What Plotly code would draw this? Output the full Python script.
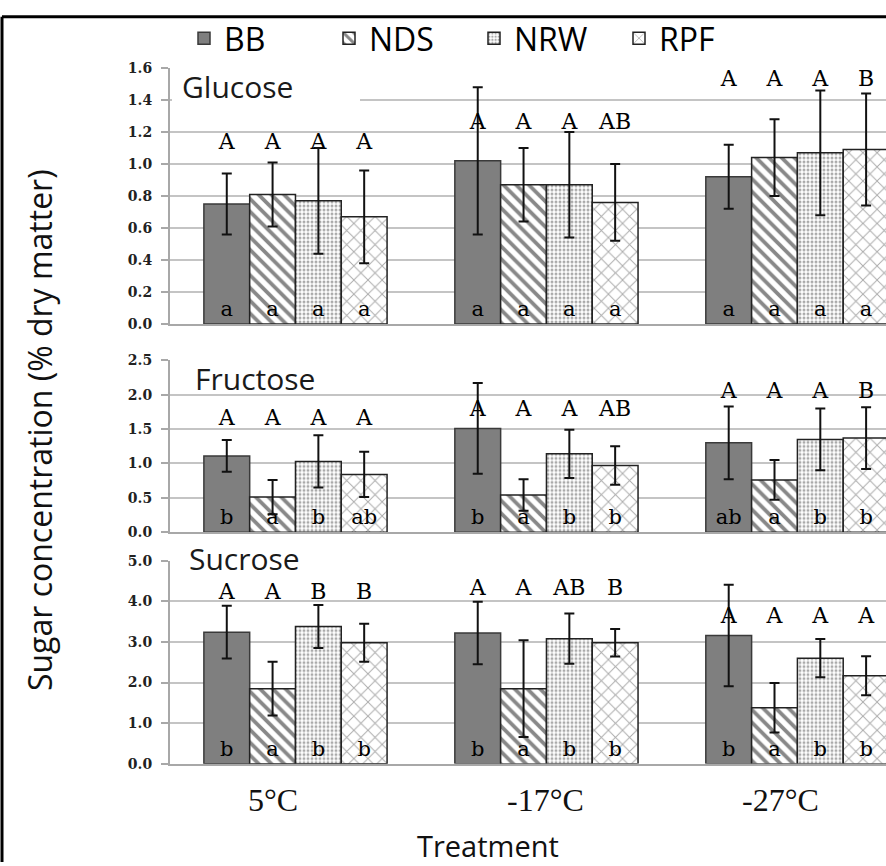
import plotly.graph_objects as go

# ---------------- data ----------------
categories = ["5°C", "-17°C", "-27°C"]
series = ["BB", "NDS", "NRW", "RPF"]

glucose_mean = [[0.75, 1.02, 0.92], [0.81, 0.87, 1.04], [0.77, 0.87, 1.07], [0.67, 0.76, 1.09]]
glucose_err = [[0.19, 0.46, 0.20], [0.20, 0.23, 0.24], [0.33, 0.33, 0.39], [0.29, 0.24, 0.35]]
glucose_upper = [["A", "A", "A"], ["A", "A", "A"], ["A", "A", "A"], ["A", "AB", "B"]]
glucose_lower = [["a", "a", "a"], ["a", "a", "a"], ["a", "a", "a"], ["a", "a", "a"]]
glucose_upper_y = [1.13, 1.25, 1.52]

fructose_mean = [[1.11, 1.51, 1.30], [0.51, 0.54, 0.76], [1.03, 1.14, 1.35], [0.84, 0.97, 1.37]]
fructose_err = [[0.23, 0.66, 0.53], [0.25, 0.23, 0.29], [0.38, 0.35, 0.45], [0.33, 0.28, 0.45]]
fructose_upper = [["A", "A", "A"], ["A", "A", "A"], ["A", "A", "A"], ["A", "AB", "B"]]
fructose_lower = [["b", "b", "ab"], ["a", "a", "a"], ["b", "b", "b"], ["ab", "b", "b"]]
fructose_upper_y = [1.64, 1.77, 2.03]

sucrose_mean = [[3.24, 3.22, 3.16], [1.85, 1.85, 1.38], [3.38, 3.08, 2.60], [2.98, 2.98, 2.17]]
sucrose_err = [[0.65, 0.77, 1.25], [0.66, 1.19, 0.61], [0.53, 0.62, 0.47], [0.47, 0.34, 0.48]]
sucrose_upper = [["A", "A", "A"], ["A", "A", "A"], ["B", "AB", "A"], ["B", "B", "A"]]
sucrose_lower = [["b", "b", "b"], ["a", "a", "a"], ["b", "b", "b"], ["b", "b", "b"]]
sucrose_upper_y = [4.19, 4.28, 3.60]

panel_names = ["Glucose", "Fructose", "Sucrose"]
y_max = [1.6, 2.5, 5.0]
y_dtick = [0.2, 0.5, 1.0]

# ---------------- layout helpers ----------------
W, H = 886, 866
L = 170


def fx(p):
    return (p - L) / (W - L)


def fy(p):
    return (H - p) / H


domains = [[fy(322), fy(61)], [fy(534), fy(359)], [fy(770), fy(563)]]
BARGAP = 0.27
xgroups = list(range(len(categories)))

styles = [
    dict(color="#7f7f7f", line=dict(color="#3a3a3a", width=1.5)),
    dict(color="white", line=dict(color="#222", width=1.5),
         pattern=dict(shape="\\", fgcolor="#111", bgcolor="white", size=9, solidity=0.42)),
    dict(color="white", line=dict(color="#222", width=1.5),
         pattern=dict(shape=".", fgcolor="#555", bgcolor="white", size=4, solidity=0.45)),
    dict(color="white", line=dict(color="#222", width=1.5),
         pattern=dict(shape="x", fgcolor="#555", bgcolor="white", size=10, solidity=0.18)),
]

LETTER_FONT = "DejaVu Serif"

panels = [
    (glucose_mean, glucose_err, glucose_upper, glucose_lower, glucose_upper_y),
    (fructose_mean, fructose_err, fructose_upper, fructose_lower, fructose_upper_y),
    (sucrose_mean, sucrose_err, sucrose_upper, sucrose_lower, sucrose_upper_y),
]

fig = go.Figure()
bw = (1 - BARGAP) / len(series)
for p, (mean, err, upper, lower, upper_y) in enumerate(panels):
    xa = "x" if p == 0 else f"x{p+1}"
    ya = "y" if p == 0 else f"y{p+1}"
    for i, s in enumerate(series):
        fig.add_trace(go.Bar(
            x=xgroups, y=mean[i], name=s, legendgroup=s, showlegend=(p == 0),
            marker=styles[i],
            error_y=dict(type="data", array=err[i], color="#111", thickness=2, width=5),
            text=lower[i], textposition="inside", insidetextanchor="start", textangle=0,
            insidetextfont=dict(family=LETTER_FONT, size=21, color="black"),
            constraintext="none",
            xaxis=xa, yaxis=ya,
        ))
    # upper letters
    xs, ys, ts = [], [], []
    for i in range(len(series)):
        for g in xgroups:
            xs.append(g + (i - (len(series) - 1) / 2) * bw)
            ys.append(upper_y[g])
            ts.append(upper[i][g])
    fig.add_trace(go.Scatter(
        x=xs, y=ys, text=ts, mode="text", showlegend=False, cliponaxis=False,
        textfont=dict(family=LETTER_FONT, size=22, color="black"),
        xaxis=xa, yaxis=ya, hoverinfo="skip",
    ))

layout = dict(
    width=W, height=H,
    margin=dict(l=L, r=0, t=0, b=0),
    paper_bgcolor="white", plot_bgcolor="white",
    barmode="group", bargap=BARGAP, bargroupgap=0,
    legend=dict(orientation="h", x=fx(184), y=fy(31), xanchor="left", yanchor="middle",
                font=dict(family="Open Sans", size=32, color="black"),
                bgcolor="rgba(0,0,0,0)", itemwidth=30, entrywidth=100,
                entrywidthmode="pixels", traceorder="normal"),
)
for p in range(3):
    k = "" if p == 0 else str(p + 1)
    layout["xaxis" + k] = dict(domain=[0, 1], anchor="y" + k, range=[-0.5, 2.353],
                               showticklabels=False, ticks="", showgrid=False, zeroline=False,
                               showline=True, linecolor="#a8a8a8", linewidth=2, fixedrange=True)
    layout["yaxis" + k] = dict(domain=domains[p], anchor="x" + k,
                               range=[0, y_max[p] * 1.0004], dtick=y_dtick[p], tick0=0,
                               tickformat=".1f", showgrid=True, gridcolor="#c4c4c4", gridwidth=2,
                               zeroline=False, showline=True, linecolor="#a8a8a8", linewidth=2,
                               ticks="outside", ticklen=7, tickcolor="#a8a8a8", tickwidth=2,
                               tickfont=dict(family="DejaVu Serif", size=14, color="#222", weight="bold"),
                               ticklabelstandoff=6)
fig.update_layout(**layout)

# white boxes behind panel titles (hide gridlines there)
covers = [(172, 360, 54, 101), (172, 373, 352, 386), (190, 365, 554, 576)]
for x0, x1, y0, y1 in covers:
    fig.add_shape(type="rect", xref="paper", yref="paper", x0=fx(x0), x1=fx(x1), y0=fy(y1), y1=fy(y0),
                  fillcolor="white", line=dict(width=0), layer="above")

title_pos = [(180, 80), (193, 377), (187, 561)]
for name, (px, py) in zip(panel_names, title_pos):
    fig.add_annotation(text=name, xref="paper", yref="paper", x=fx(px), y=fy(py),
                       xanchor="left", yanchor="middle", showarrow=False,
                       font=dict(family="Open Sans", size=30, color="#1a1a1a"))

# category labels
cat_shift = [-22, -1, -17]
for g, c in enumerate(categories):
    fig.add_annotation(text=c, xref="x3", yref="paper", x=g, y=fy(807), xshift=cat_shift[g],
                       xanchor="center", yanchor="middle", showarrow=False,
                       font=dict(family="Liberation Serif", size=32, color="#111"))

fig.add_annotation(text="Treatment", xref="paper", yref="paper", x=fx(488), y=fy(853),
                   xanchor="center", yanchor="middle", showarrow=False,
                   font=dict(family="Open Sans", size=29, color="#111"))
fig.add_annotation(text="Sugar concentration (% dry matter)", xref="paper", yref="paper",
                   x=fx(39), y=fy(430), textangle=-90, xanchor="center", yanchor="middle",
                   showarrow=False, font=dict(family="Open Sans", size=32, color="#111"))

# outer frame (left and top edges)
fig.add_shape(type="line", xref="paper", yref="paper", x0=fx(2), x1=fx(2), y0=fy(870), y1=fy(9),
              line=dict(color="black", width=3), layer="above")
fig.add_shape(type="line", xref="paper", yref="paper", x0=fx(2), x1=fx(890), y0=fy(9), y1=fy(9),
              line=dict(color="black", width=3), layer="above")

fig.write_html("out.html")
